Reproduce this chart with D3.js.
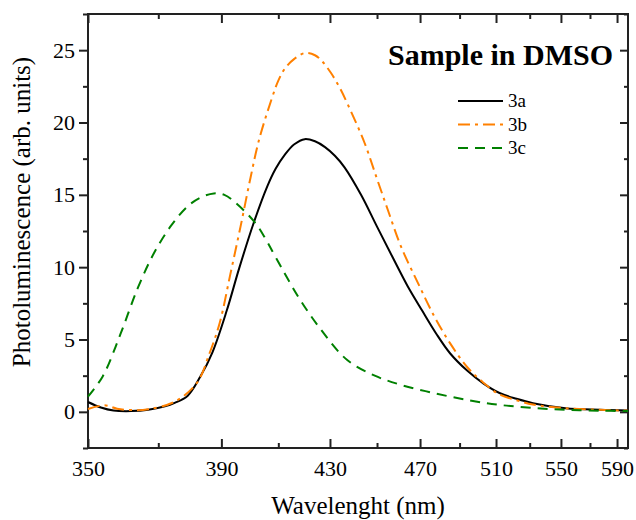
<!DOCTYPE html>
<html>
<head>
<meta charset="utf-8">
<script src="https://cdn.jsdelivr.net/npm/d3@7"></script>
<style>
  body { margin: 0; background: #fff; }
</style>
</head>
<body>
<div class="canvas"></div>
<script>
// wavelength (nm) / photoluminescence (arb. units)
const wl3a = [350, 353.5, 357, 362, 367, 372, 375, 379, 383, 387, 391.8, 396, 401, 406, 409, 412.5, 416, 420, 424, 428, 432, 436, 443, 450, 457, 464, 471, 478, 485, 494, 503, 512, 522, 532, 553, 577, 598.5];
const pl3a = [0.68, 0.3, 0.09, 0.05, 0.14, 0.38, 0.62, 1.1, 2.4, 4.1, 7.0, 9.9, 13.0, 15.6, 16.8, 17.8, 18.5, 18.85, 18.7, 18.3, 17.7, 16.9, 15.0, 12.8, 10.7, 8.7, 7.0, 5.4, 4.05, 2.85, 1.95, 1.3, 0.9, 0.6, 0.25, 0.14, 0.1];

const wl3b = [350, 354.5, 358, 362, 367, 375, 382, 386, 389.5, 393, 396.5, 400, 403, 407.5, 410, 412.5, 416, 420, 424, 427, 430.5, 434, 437.5, 444.5, 450, 455, 461, 469, 477, 485, 494, 503, 512, 522, 532, 553, 577, 598.5];
const pl3b = [0.2, 0.45, 0.22, 0.12, 0.18, 0.7, 2.0, 4.0, 6.2, 9.5, 12.8, 16.2, 18.8, 21.6, 22.9, 23.75, 24.4, 24.8, 24.65, 24.2, 23.4, 22.4, 21.2, 18.6, 16.1, 13.9, 11.4, 8.9, 6.6, 4.75, 3.1, 2.0, 1.2, 0.8, 0.5, 0.25, 0.14, 0.08];

const wl3c = [350, 354, 359, 364, 369, 374, 379, 383, 387.5, 391, 394.5, 401.5, 405.5, 409, 417.5, 426.5, 437, 449, 461, 477, 495, 512, 532, 553, 577, 598.5];
const pl3c = [1.05, 2.45, 5.4, 8.6, 11.1, 12.9, 14.2, 14.8, 15.1, 15.0, 14.5, 13.1, 11.9, 10.7, 7.95, 5.65, 3.6, 2.5, 1.86, 1.29, 0.8, 0.48, 0.27, 0.14, 0.08, 0.05];

const seriesNames = ['3a', '3b', '3c'];
const seriesColors = ['#000000', '#ff8000', '#008000'];
const seriesDash = ['none', '12,5,3,5', '10,7'];

const xMajor = [350, 390, 430, 470, 510, 550, 590];
const xMinor = [370, 410, 450, 490, 530, 570];
const yMajor = [0, 5, 10, 15, 20, 25];
const yMinor = [-2.5, 2.5, 7.5, 12.5, 17.5, 22.5, 27.5];

const width = 636, height = 520;
const margin = { top: 14, right: 8, bottom: 72, left: 88 };
const graphWidth = width - margin.left - margin.right;
const graphHeight = height - margin.top - margin.bottom;
const serif = '"Liberation Serif", "Times New Roman", Times, serif';

const svg = d3.select('.canvas')
  .append('svg')
  .attr('width', width)
  .attr('height', height)
  .style('font-family', serif);

const graph = svg.append('g')
  .attr('transform', `translate(${margin.left}, ${margin.top})`);

// the wavelength axis is linear in photon energy
const toE = nm => 1239.84 / nm;
const x = d3.scaleLinear()
  .domain([toE(350), toE(598.5)])
  .range([0, graphWidth]);

const y = d3.scaleLinear()
  .domain([-2.5, 27.5])
  .range([graphHeight, 0]);

const fmtNm = e => Math.round(1239.84 / e);

// axes
const styleAxis = g => {
  g.attr('font-family', serif);
  g.select('.domain').remove();
  g.selectAll('line').attr('stroke', '#222').attr('stroke-width', 2);
  g.selectAll('text').attr('fill', '#000').style('font-family', serif).style('font-size', '22px');
};

graph.append('g')
  .attr('transform', `translate(0, ${graphHeight})`)
  .call(d3.axisBottom(x).tickValues(xMajor.map(toE)).tickFormat(fmtNm).tickSize(-9).tickPadding(12))
  .call(styleAxis);

graph.append('g')
  .attr('transform', `translate(0, ${graphHeight})`)
  .call(d3.axisBottom(x).tickValues(xMinor.map(toE)).tickFormat('').tickSize(-5))
  .call(styleAxis);

graph.append('g')
  .call(d3.axisTop(x).tickValues(xMajor.map(toE)).tickFormat('').tickSize(-9))
  .call(styleAxis);

graph.append('g')
  .call(d3.axisTop(x).tickValues(xMinor.map(toE)).tickFormat('').tickSize(-5))
  .call(styleAxis);

graph.append('g')
  .call(d3.axisLeft(y).tickValues(yMajor).tickSize(9).tickPadding(4))
  .call(styleAxis);

graph.append('g')
  .call(d3.axisLeft(y).tickValues(yMinor).tickFormat('').tickSize(5))
  .call(styleAxis);

graph.append('g')
  .attr('transform', `translate(${graphWidth}, 0)`)
  .call(d3.axisRight(y).tickValues(yMajor).tickFormat('').tickSize(-8))
  .call(styleAxis);

graph.append('g')
  .attr('transform', `translate(${graphWidth}, 0)`)
  .call(d3.axisRight(y).tickValues(yMinor).tickFormat('').tickSize(-4))
  .call(styleAxis);

// frame
graph.append('rect')
  .attr('width', graphWidth)
  .attr('height', graphHeight)
  .attr('fill', 'none')
  .attr('stroke', '#222')
  .attr('stroke-width', 2);

// curves
const series = [
  wl3a.map((w, i) => ({ w, v: pl3a[i] })),
  wl3b.map((w, i) => ({ w, v: pl3b[i] })),
  wl3c.map((w, i) => ({ w, v: pl3c[i] }))
];

const line = d3.line()
  .x(d => x(toE(d.w)))
  .y(d => y(d.v))
  .curve(d3.curveCatmullRom.alpha(0.5));

graph.selectAll('path.curve')
  .data(series)
  .enter()
  .append('path')
  .attr('class', 'curve')
  .attr('d', line)
  .attr('fill', 'none')
  .attr('stroke', (d, i) => seriesColors[i])
  .attr('stroke-dasharray', (d, i) => seriesDash[i])
  .attr('stroke-width', 2);

// title
svg.append('text')
  .attr('x', 613)
  .attr('y', 65)
  .attr('text-anchor', 'end')
  .style('font-size', '30px')
  .style('font-weight', 'bold')
  .text('Sample in DMSO');

// legend
const legend = svg.append('g').attr('transform', 'translate(458, 101)');
const rows = legend.selectAll('g')
  .data(seriesNames)
  .enter()
  .append('g')
  .attr('transform', (d, i) => `translate(0, ${i * 23.5})`);

rows.append('line')
  .attr('x1', 0).attr('x2', 45)
  .attr('stroke', (d, i) => seriesColors[i])
  .attr('stroke-dasharray', (d, i) => seriesDash[i])
  .attr('stroke-width', 2);

rows.append('text')
  .attr('x', 50)
  .attr('y', 6)
  .style('font-size', '19px')
  .text(d => d);

// axis titles
svg.append('text')
  .attr('x', margin.left + graphWidth / 2)
  .attr('y', 514)
  .attr('text-anchor', 'middle')
  .style('font-size', '25px')
  .text('Wavelenght (nm)');

svg.append('text')
  .attr('transform', `translate(30, 212) rotate(-90)`)
  .attr('text-anchor', 'middle')
  .style('font-size', '25px')
  .text('Photoluminescence (arb. units)');
</script>
</body>
</html>
